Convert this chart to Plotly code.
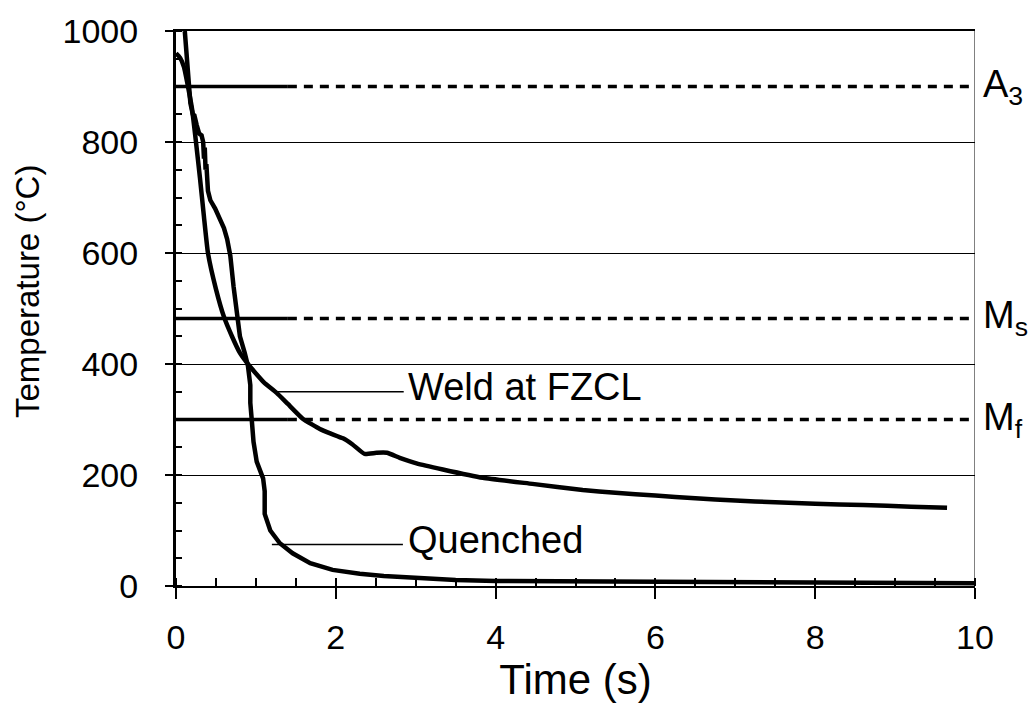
import plotly.graph_objects as go

# Thermal cycles (time in s, temperature in °C)
weld_t = [0.00, 0.05, 0.10, 0.15, 0.20, 0.25, 0.30, 0.35, 0.40, 0.50, 0.60, 0.70,
          0.80, 0.90, 1.00, 1.10, 1.26, 1.40, 1.59, 1.80, 1.93, 2.09, 2.21, 2.36,
          2.51, 2.64, 2.80, 3.01, 3.34, 3.84, 4.46, 5.09, 5.50, 6.00, 6.50, 7.00,
          7.50, 8.00, 8.60, 9.20, 9.65]
weld_T = [960, 952, 935, 900, 860, 800, 735, 665, 600, 535, 485, 450,
          420, 400, 383, 367, 348, 328, 301, 283, 275, 266, 255, 238,
          240, 240, 231, 221, 210, 195, 184, 173, 168, 163, 158, 154,
          151, 148, 146, 143, 141]

quench_t = [0.11, 0.13, 0.15, 0.18, 0.21, 0.23, 0.26, 0.29, 0.32, 0.34, 0.35, 0.36,
            0.37, 0.38, 0.40, 0.43, 0.49, 0.55, 0.60, 0.64, 0.68, 0.72, 0.76, 0.80,
            0.86, 0.90, 0.93, 0.93, 0.95, 0.97, 1.01, 1.09, 1.11, 1.11, 1.18, 1.30,
            1.46, 1.68, 1.96, 2.30, 2.60, 3.00, 3.50, 4.00, 5.00, 6.00, 7.00, 8.00,
            10.00]
quench_T = [1000, 955, 910, 870, 850, 848, 830, 815, 812, 800, 770, 790,
            750, 760, 712, 695, 680, 662, 645, 625, 595, 540, 487, 450,
            420, 397, 362, 330, 296, 260, 224, 194, 171, 130, 100, 77,
            59, 41, 29, 22, 18, 14, 11, 9, 8, 7, 6, 5,
            5]

# Transformation temperatures
crit_names = ["A<sub>3</sub>", "M<sub>s</sub>", "M<sub>f</sub>"]
crit_T = [900, 482, 300]
solid_end = 1.4

# Curve labels with leader lines
label_text = ["Weld at FZCL", "Quenched"]
label_T = [358, 82]
leader_T = [350, 75]
leader_t0 = [1.26, 1.20]
leader_t1 = [2.85, 2.84]
label_t = 2.88

x_ticks = [0, 2, 4, 6, 8, 10]
y_ticks = [0, 200, 400, 600, 800, 1000]

FONT = "Liberation Sans, Arial, sans-serif"

fig = go.Figure()

for T in crit_T:
    fig.add_trace(go.Scatter(x=[0, solid_end], y=[T, T], mode="lines",
                             line=dict(color="black", width=3.5), hoverinfo="skip"))
    fig.add_trace(go.Scatter(x=[solid_end, 9.97], y=[T, T], mode="lines",
                             line=dict(color="black", width=3.5, dash="9px,7px"),
                             hoverinfo="skip"))

for T, a, b in zip(leader_T, leader_t0, leader_t1):
    fig.add_trace(go.Scatter(x=[a, b], y=[T, T], mode="lines",
                             line=dict(color="black", width=1.5), hoverinfo="skip"))

fig.add_trace(go.Scatter(x=weld_t, y=weld_T, mode="lines", name="Weld at FZCL",
                         line=dict(color="black", width=4.5, shape="spline", smoothing=0.4)))
fig.add_trace(go.Scatter(x=quench_t, y=quench_T, mode="lines", name="Quenched",
                         line=dict(color="black", width=4.5)))

for txt, T in zip(label_text, label_T):
    fig.add_annotation(x=label_t, y=T, text=txt, showarrow=False, xanchor="left",
                       yanchor="middle", font=dict(family=FONT, size=38, color="black"))

for txt, T in zip(crit_names, crit_T):
    fig.add_annotation(x=1.008, xref="paper", y=T, text=txt, showarrow=False,
                       xanchor="left", yanchor="middle",
                       font=dict(family=FONT, size=38, color="black"))

# y-axis title
fig.add_annotation(x=-0.185, xref="paper", y=0.53, yref="paper",
                   text="Temperature (°C)", textangle=-90, showarrow=False,
                   xanchor="center", yanchor="middle",
                   font=dict(family=FONT, size=33, color="black"))

# right frame edge
fig.add_shape(type="line", x0=10, x1=10, y0=0, y1=1, xref="x", yref="paper",
              line=dict(color="black", width=1))

fig.update_layout(
    width=1035, height=718,
    margin=dict(l=176, r=60, t=25, b=132),
    plot_bgcolor="white", paper_bgcolor="white",
    showlegend=False,
    font=dict(family=FONT, color="black"),
)
fig.update_xaxes(
    range=[0, 10], tickvals=x_ticks, ticks="outside", ticklen=11, tickwidth=1.5,
    tickcolor="black", showline=True, linecolor="black", linewidth=2, mirror=True,
    showgrid=False, zeroline=False, tickfont=dict(size=34), ticklabelstandoff=9,
    minor=dict(ticks="inside", dtick=0.5, ticklen=8, tickwidth=1.5, tickcolor="black",
               showgrid=False),
    title=dict(text="Time (s)", font=dict(size=42), standoff=0),
)
fig.update_yaxes(
    range=[0, 1000], tickvals=y_ticks, ticks="outside", ticklen=8, tickwidth=1.5,
    tickcolor="black", showline=True, linecolor="black", linewidth=3,
    showgrid=True, gridcolor="black", gridwidth=1, zeroline=False,
    tickfont=dict(size=34), ticklabelstandoff=20,
    minor=dict(ticks="inside", dtick=50, ticklen=6, tickwidth=1.5, tickcolor="black",
               showgrid=False),
)

fig.write_html("out.html")
